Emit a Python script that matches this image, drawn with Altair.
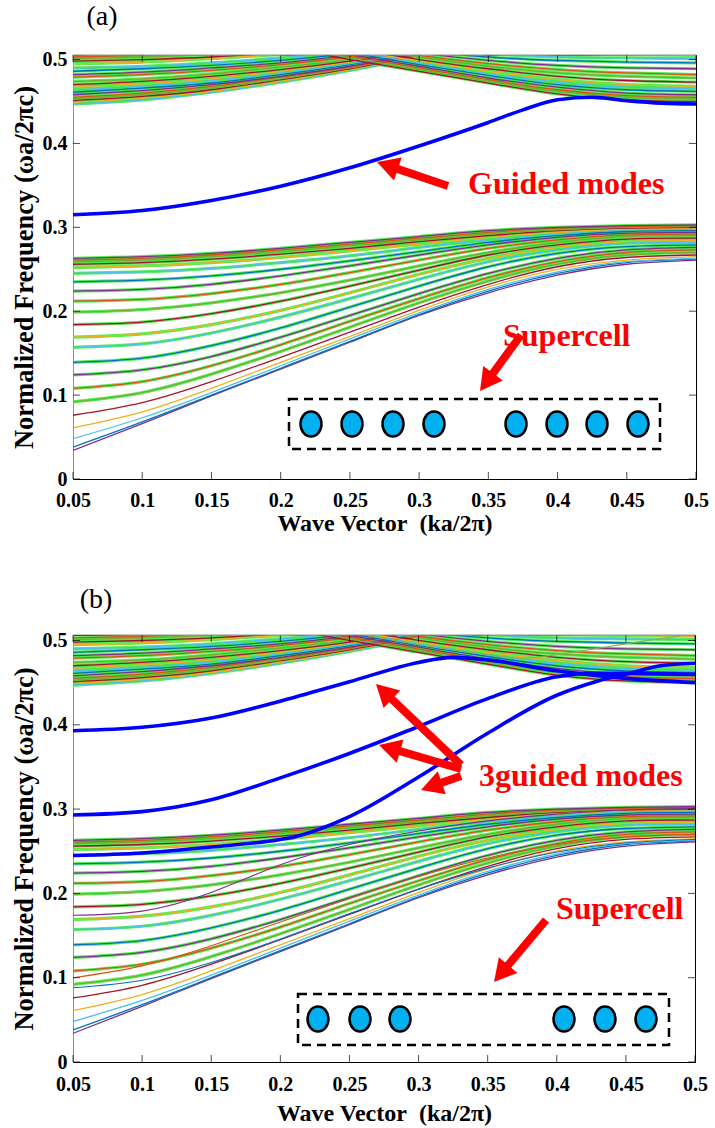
import math
import altair as alt
import pandas as pd

FONT = "Liberation Serif, Times New Roman, Times, DejaVu Serif, serif"
RED = "#ff0000"

# ---------------- data ----------------
XTICKS = [0.05, 0.1, 0.15, 0.2, 0.25, 0.3, 0.35, 0.4, 0.45, 0.5]
YTICKS = [0, 0.1, 0.2, 0.3, 0.4, 0.5]

K10 = [0.05, 0.1, 0.15, 0.2, 0.25, 0.3, 0.35, 0.4, 0.45, 0.5]
LOWER = [
    [0.034, 0.066, 0.099, 0.131, 0.163, 0.195, 0.222, 0.243, 0.256, 0.261],
    [0.038, 0.068, 0.100, 0.132, 0.164, 0.196, 0.224, 0.245, 0.258, 0.262],
    [0.048, 0.073, 0.103, 0.135, 0.167, 0.198, 0.226, 0.247, 0.259, 0.263],
    [0.061, 0.080, 0.108, 0.139, 0.170, 0.201, 0.229, 0.250, 0.261, 0.265],
    [0.076, 0.091, 0.116, 0.145, 0.175, 0.205, 0.232, 0.253, 0.264, 0.267],
    [0.092, 0.103, 0.125, 0.152, 0.181, 0.210, 0.236, 0.256, 0.267, 0.270],
    [0.108, 0.116, 0.135, 0.160, 0.188, 0.215, 0.240, 0.259, 0.270, 0.273],
    [0.124, 0.130, 0.146, 0.169, 0.195, 0.221, 0.245, 0.263, 0.273, 0.276],
    [0.139, 0.144, 0.159, 0.180, 0.205, 0.230, 0.253, 0.269, 0.277, 0.279],
    [0.157, 0.161, 0.174, 0.193, 0.215, 0.238, 0.259, 0.273, 0.281, 0.282],
    [0.169, 0.173, 0.184, 0.201, 0.222, 0.244, 0.263, 0.276, 0.283, 0.284],
    [0.184, 0.187, 0.197, 0.212, 0.230, 0.249, 0.267, 0.279, 0.286, 0.287],
    [0.199, 0.202, 0.210, 0.222, 0.237, 0.254, 0.270, 0.282, 0.289, 0.290],
    [0.212, 0.214, 0.221, 0.232, 0.246, 0.261, 0.275, 0.285, 0.291, 0.292],
    [0.224, 0.226, 0.232, 0.242, 0.254, 0.267, 0.279, 0.288, 0.293, 0.294],
    [0.235, 0.237, 0.242, 0.250, 0.260, 0.271, 0.282, 0.290, 0.295, 0.296],
    [0.245, 0.247, 0.251, 0.258, 0.266, 0.276, 0.285, 0.292, 0.297, 0.298],
    [0.252, 0.254, 0.258, 0.264, 0.272, 0.280, 0.288, 0.294, 0.298, 0.299],
    [0.256, 0.258, 0.262, 0.268, 0.275, 0.283, 0.290, 0.296, 0.299, 0.300],
    [0.259, 0.261, 0.265, 0.271, 0.278, 0.285, 0.292, 0.297, 0.300, 0.301],
    [0.261, 0.263, 0.267, 0.273, 0.280, 0.287, 0.294, 0.299, 0.301, 0.302],
    [0.263, 0.265, 0.269, 0.275, 0.282, 0.289, 0.296, 0.300, 0.302, 0.303],
]

K_RISE = [0.05, 0.1, 0.15, 0.2, 0.25, 0.3, 0.35]
RISE = [
    [0.447, 0.452, 0.461, 0.473, 0.487, 0.503, 0.520],
    [0.449, 0.454, 0.462, 0.474, 0.488, 0.504, 0.521],
    [0.451, 0.456, 0.464, 0.476, 0.489, 0.505, 0.521],
    [0.453, 0.458, 0.466, 0.477, 0.490, 0.506, 0.522],
    [0.455, 0.460, 0.468, 0.479, 0.491, 0.506, 0.522],
    [0.458, 0.463, 0.470, 0.480, 0.492, 0.507, 0.523],
    [0.461, 0.466, 0.472, 0.482, 0.494, 0.508, 0.523],
    [0.464, 0.468, 0.475, 0.484, 0.495, 0.509, 0.524],
    [0.467, 0.471, 0.477, 0.486, 0.497, 0.510, 0.525],
    [0.470, 0.474, 0.480, 0.488, 0.498, 0.511, 0.525],
    [0.474, 0.477, 0.483, 0.491, 0.500, 0.512, 0.526],
    [0.479, 0.482, 0.487, 0.494, 0.503, 0.514, 0.527],
    [0.482, 0.485, 0.490, 0.496, 0.505, 0.515, 0.528],
    [0.486, 0.489, 0.493, 0.499, 0.507, 0.517, 0.529],
    [0.490, 0.492, 0.496, 0.502, 0.509, 0.518, 0.530],
    [0.495, 0.497, 0.501, 0.506, 0.512, 0.520, 0.531],
    [0.498, 0.500, 0.503, 0.508, 0.514, 0.522, 0.532],
    [0.501, 0.503, 0.506, 0.510, 0.516, 0.524, 0.533],
    [0.503, 0.505, 0.508, 0.512, 0.518, 0.525, 0.534],
]

K_DESC = [0.2, 0.25, 0.3, 0.35, 0.4, 0.45, 0.5]
DESC = [
    [0.515, 0.500, 0.486, 0.472, 0.459, 0.452, 0.450],
    [0.517, 0.502, 0.488, 0.474, 0.462, 0.455, 0.453],
    [0.519, 0.504, 0.490, 0.476, 0.464, 0.457, 0.455],
    [0.521, 0.506, 0.492, 0.478, 0.467, 0.460, 0.458],
    [0.523, 0.508, 0.494, 0.481, 0.470, 0.464, 0.462],
    [0.525, 0.510, 0.496, 0.483, 0.473, 0.467, 0.465],
    [0.527, 0.512, 0.498, 0.486, 0.476, 0.470, 0.468],
    [0.529, 0.514, 0.500, 0.489, 0.480, 0.475, 0.473],
    [0.531, 0.516, 0.503, 0.492, 0.484, 0.480, 0.478],
    [0.533, 0.518, 0.505, 0.495, 0.488, 0.484, 0.482],
    [0.535, 0.521, 0.508, 0.499, 0.493, 0.490, 0.489],
    [0.537, 0.523, 0.511, 0.503, 0.499, 0.497, 0.496],
    [0.539, 0.525, 0.514, 0.507, 0.503, 0.502, 0.501],
    [0.541, 0.527, 0.517, 0.510, 0.507, 0.506, 0.505],
]

# extra thin bands visible only in panel (b)
EXTRA_B = [
    (K10, [0.174, 0.179, 0.201, 0.234, 0.258, 0.274, 0.286, 0.294, 0.299, 0.301], "#7E2F8E"),
    (K10, [0.100, 0.114, 0.138, 0.166, 0.194, 0.220, 0.242, 0.258, 0.267, 0.270], "#D95319"),
    (K10, [0.088, 0.097, 0.118, 0.146, 0.176, 0.205, 0.230, 0.249, 0.260, 0.264], "#0072BD"),
    ([0.25, 0.3, 0.35, 0.375, 0.4, 0.45, 0.5], [0.510, 0.495, 0.483, 0.479, 0.483, 0.496, 0.508], "#8ab04a"),
]

# guided modes (blue)
GA_K = [0.05, 0.1, 0.15, 0.2, 0.25, 0.3, 0.35, 0.375, 0.4, 0.425, 0.45, 0.475, 0.5]
GA_V = [0.315, 0.320, 0.332, 0.349, 0.371, 0.397, 0.425, 0.440, 0.452, 0.455, 0.451, 0.448, 0.447]

GB1_K = [0.05, 0.1, 0.15, 0.2, 0.25, 0.3, 0.325, 0.35, 0.4, 0.45, 0.5]
GB1_V = [0.393, 0.397, 0.408, 0.428, 0.451, 0.474, 0.480, 0.477, 0.464, 0.455, 0.450]
GB2_K = [0.05, 0.1, 0.15, 0.2, 0.25, 0.3, 0.35, 0.4, 0.425, 0.45, 0.5]
GB2_V = [0.293, 0.297, 0.311, 0.337, 0.366, 0.398, 0.431, 0.457, 0.461, 0.461, 0.460]
GB3_K = [0.05, 0.1, 0.15, 0.2, 0.21, 0.25, 0.3, 0.35, 0.4, 0.43, 0.45, 0.475, 0.5]
GB3_V = [0.245, 0.248, 0.255, 0.264, 0.267, 0.291, 0.338, 0.390, 0.435, 0.452, 0.460, 0.470, 0.473]

PALETTE = ["#7E2F8E", "#0072BD", "#4DBEEE", "#EDB120", "#A2142F", "#77AC30", "#D95319"]
HALO = "#3be63b"

HEAD = "M0,0L0.55,1L-0.55,1Z"
ELLIPSE = "M-0.84,0A0.84,1,0,1,0,0.84,0A0.84,1,0,1,0,-0.84,0Z"
DUMMY = pd.DataFrame({"a": [0]})


def line_rows(tag, ks, lines, halo_from=0, offset=0):
    rows = []
    for i, vals in enumerate(lines):
        col = PALETTE[(i + offset) % len(PALETTE)]
        for k, v in zip(ks, vals):
            rows.append({"id": f"{tag}{i}", "k": k, "v": v, "c": col, "halo": i >= halo_from})
    return rows


def arrow(tail, tip, width=8, head_len=22):
    dx, dy = tip[0] - tail[0], tip[1] - tail[1]
    L = math.hypot(dx, dy)
    ux, uy = dx / L, dy / L
    bx, by = tip[0] - ux * (head_len - 2), tip[1] - uy * (head_len - 2)
    ang = math.degrees(math.atan2(dx, -dy)) % 360
    shaft = alt.Chart(DUMMY).mark_rule(color=RED, strokeWidth=width, strokeCap="butt").encode(
        x=alt.value(tail[0]), y=alt.value(tail[1]), x2=alt.value(bx), y2=alt.value(by))
    head = alt.Chart(DUMMY).mark_point(shape=HEAD, filled=True, color=RED, opacity=1,
                                       size=(2 * head_len) ** 2, angle=ang, strokeWidth=0).encode(
        x=alt.value(tip[0]), y=alt.value(tip[1]))
    return [shaft, head]


def panel(rows, thin, blues, W, H, ytop, label, label_xy, texts, arrows, rect, circles, cy,
          x_lp, x_tp):
    X = alt.X("k:Q", scale=alt.Scale(domain=[0.05, 0.5], nice=False, zero=False),
              axis=alt.Axis(values=XTICKS, format="~g", title="Wave Vector\u00a0 (ka/2π)",
                            labelFont=FONT, labelFontWeight="bold", labelFontSize=20,
                            labelColor="black", titleFont=FONT, titleFontWeight="bold",
                            titleFontSize=24, titleColor="black", ticks=False, tickSize=0,
                            labelPadding=x_lp, titlePadding=x_tp, grid=False,
                            domainColor="black", labelFlush=False, labelOverlap=False))
    Y = alt.Y("v:Q", scale=alt.Scale(domain=[0, ytop], nice=False),
              axis=alt.Axis(values=YTICKS, format="~g", title="Normalized Frequency (ωa/2πc)",
                            labelFont=FONT, labelFontWeight="bold", labelFontSize=20,
                            labelColor="black", titleFont=FONT, titleFontWeight="bold",
                            titleFontSize=26.5, titleColor="black", ticks=False, tickSize=0,
                            labelPadding=6, titlePadding=4, grid=False,
                            domainColor="#909090", labelFlush=False, labelOverlap=False))
    df = pd.DataFrame(rows)
    layers = [
        alt.Chart(df[df["halo"]]).mark_line(interpolate="natural", clip=True, color=HALO,
                                            strokeWidth=3.2, opacity=0.85).encode(X, Y, detail="id:N"),
        alt.Chart(df).mark_line(interpolate="natural", clip=True, strokeWidth=1.3).encode(
            X, Y, detail="id:N", color=alt.Color("c:N", scale=None)),
    ]
    if thin:
        tdf = pd.DataFrame(thin)
        layers.append(alt.Chart(tdf).mark_line(interpolate="natural", clip=True, strokeWidth=1.1).encode(
            X, Y, detail="id:N", color=alt.Color("c:N", scale=None)))
    bdf = pd.DataFrame(blues)
    layers.append(alt.Chart(bdf).mark_line(interpolate="monotone", clip=True, strokeWidth=3.6,
                                           color="#0000ff").encode(X, Y, detail="id:N"))
    # inward ticks
    xt = pd.DataFrame({"k": XTICKS})
    yt = pd.DataFrame({"v": YTICKS})
    layers += [
        alt.Chart(xt).mark_tick(orient="vertical", size=7, thickness=1, color="black").encode(X, y=alt.value(H - 3.5)),
        alt.Chart(xt).mark_tick(orient="vertical", size=7, thickness=1, color="black").encode(X, y=alt.value(3.5)),
        alt.Chart(yt).mark_tick(orient="horizontal", size=7, thickness=1, color="black").encode(Y, x=alt.value(3.5)),
        alt.Chart(yt).mark_tick(orient="horizontal", size=7, thickness=1, color="black").encode(Y, x=alt.value(W - 3.5)),
        alt.Chart(DUMMY).mark_rule(color="#909090", strokeWidth=1).encode(
            x=alt.value(0), x2=alt.value(W), y=alt.value(0)),
    ]
    # supercell inset
    layers.append(alt.Chart(DUMMY).mark_rect(fillOpacity=0, stroke="black", strokeWidth=2.5,
                                             strokeDash=[9, 6]).encode(
        x=alt.value(rect[0]), x2=alt.value(rect[1]), y=alt.value(rect[2]), y2=alt.value(rect[3])))
    for cx in circles:
        layers.append(alt.Chart(DUMMY).mark_point(shape=ELLIPSE, filled=True, fill="#00b0f0",
                                                  fillOpacity=1, stroke="black", strokeWidth=2.5,
                                                  strokeOpacity=1, size=625).encode(
            x=alt.value(cx), y=alt.value(cy)))
    for tail, tip in arrows:
        layers += arrow(tail, tip)
    for txt, tx, ty in texts:
        layers.append(alt.Chart(DUMMY).mark_text(text=txt, font=FONT, fontWeight="bold", fontSize=32,
                                                 color=RED, align="left", baseline="alphabetic").encode(
            x=alt.value(tx), y=alt.value(ty)))
    layers.append(alt.Chart(DUMMY).mark_text(text=label, font=FONT, fontSize=28, color="black",
                                             align="center", baseline="middle").encode(
        x=alt.value(label_xy[0]), y=alt.value(label_xy[1])))
    return alt.layer(*layers).properties(width=W, height=H)


rows_a = (line_rows("L", K10, LOWER, halo_from=5)
          + line_rows("R", K_RISE, RISE, offset=2)
          + line_rows("D", K_DESC, DESC, offset=4))
blues_a = [{"id": "g", "k": k, "v": v} for k, v in zip(GA_K, GA_V)]

thin_b = []
for j, (ks, vs, col) in enumerate(EXTRA_B):
    thin_b += [{"id": f"x{j}", "k": k, "v": v, "c": col} for k, v in zip(ks, vs)]
blues_b = ([{"id": "b1", "k": k, "v": v} for k, v in zip(GB1_K, GB1_V)]
           + [{"id": "b2", "k": k, "v": v} for k, v in zip(GB2_K, GB2_V)]
           + [{"id": "b3", "k": k, "v": v} for k, v in zip(GB3_K, GB3_V)])

pa = panel(rows_a, None, blues_a, 623, 424, 0.5054, "(a)", (29, -38),
           [("Guided modes", 395, 139), ("Supercell", 430, 291)],
           [((375, 131), (304, 107)), ((448, 280), (407, 336))],
           (216, 587, 344, 394), [238, 279, 320, 361, 443, 484, 524, 565], 369,
           x_lp=11, x_tp=1)
pb = panel(rows_a, thin_b, blues_b, 622, 427, 0.5065, "(b)", (23, -35),
           [("3guided modes", 406, 151), ("Supercell", 483, 284)],
           [((388, 130), (303, 49)), ((388, 134), (306, 110)), ((388, 141), (348, 155)),
            ((473, 285), (421, 347))],
           (225, 596, 359, 410), [245, 287, 327, 491, 532, 573], 384,
           x_lp=12, x_tp=7)

chart = alt.vconcat(pa, pb, spacing=49).properties(
    padding={"left": 10, "top": 2, "right": 5, "bottom": 2},
    background="white",
).configure_view(stroke="black", strokeWidth=1)

chart.save("out.html", embed_options={"renderer": "svg", "actions": False})
